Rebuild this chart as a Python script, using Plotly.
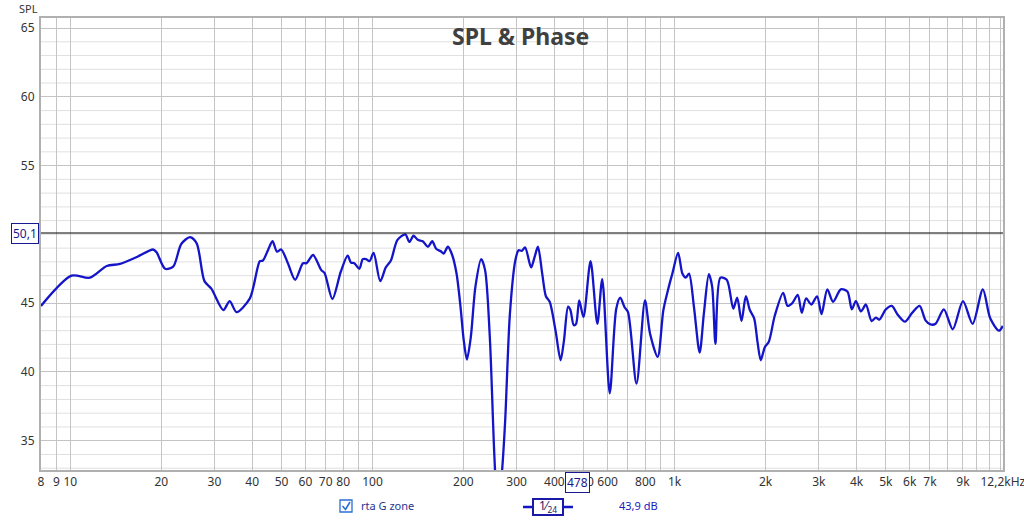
import math
import plotly.graph_objects as go

# ---- data ----
freq_hz = [8.0, 10.1, 11.6, 13.2, 14.6, 16.6, 18.8, 19.3, 20.6, 21.9, 23.3, 24.9, 26.2, 27.8, 29.3,
           32.1, 33.7, 35.5, 39.3, 42.4, 43.4, 45.1, 46.7, 48.3, 49.9, 52.5, 55.5, 58.9, 60.5, 63.6,
           67.7, 69.4, 73.7, 78.6, 82.8, 84.9, 87.1, 90.5, 92.9, 95.3, 97.8, 100.9, 106.1, 110.7,
           115.1, 121.0, 128.5, 132.5, 136.8, 141.3, 146.7, 152.6, 157.7, 162.5, 168.8, 172.0,
           177.7, 183.6, 189.8, 195.7, 200.5, 205.4, 211.5, 219.2, 229.0, 235.9, 244.6, 253.1,
           260.0, 268.5, 275.0, 285.0, 297.0, 304.5, 312.0, 320.0, 335.0, 344.0, 353.0, 364.6,
           375.0, 386.0, 403.6, 419.5, 430.4, 444.0, 452.0, 463.6, 472.0, 483.4, 499.3, 527.0,
           555.0, 576.0, 610.0, 641.0, 661.0, 683.0, 701.0, 748.0, 798.0, 829.0, 879.0, 918.0,
           957, 983, 1027, 1061, 1088, 1116, 1159, 1210, 1250, 1298, 1331, 1365, 1417, 1488,
           1564, 1611, 1665, 1721, 1774, 1833, 1880, 1928, 1988, 2050, 2146, 2287, 2364, 2452,
           2555, 2636, 2724, 2833, 2962, 3063, 3201, 3346, 3548, 3731, 3859, 3979, 4137, 4296,
           4486, 4637, 4756, 5001, 5234, 5458, 5786, 6113, 6467, 6766, 7030, 7305, 7779, 8325,
           9001, 9686, 10473, 11080, 11838, 12200]
spl_db = [44.8, 47.0, 46.85, 47.7, 47.85, 48.35, 48.9, 48.7, 47.5, 47.65, 49.3, 49.8, 49.35, 46.6, 46.05,
          44.5, 45.15, 44.35, 45.35, 48.05, 48.1, 48.85, 49.5, 48.75, 48.9, 47.9, 46.7, 47.9, 47.9, 48.5,
          47.4, 47.2, 45.3, 47.3, 48.45, 47.95, 47.9, 47.5, 48.2, 48.2, 48.05, 48.65, 46.6, 47.6,
          48.1, 49.6, 50.0, 49.45, 49.9, 49.6, 49.5, 49.1, 49.5, 48.95, 48.75, 48.6,
          49.1, 48.5, 47.15, 44.7, 42.3, 40.9, 42.5, 46.2, 48.2, 47.4, 42.5, 34.0,
          29.5, 32.8, 36.5, 44.2, 48.1, 48.85, 48.8, 49.05, 47.6, 48.35, 49.1, 47.15,
          45.5, 45.1, 43.0, 40.85, 42.3, 44.75, 44.5, 43.4, 43.5, 45.2, 44.0, 48.05,
          43.5, 46.75, 38.45, 44.6, 45.4, 44.7, 44.35, 39.15, 45.2, 42.8, 41.1, 44.5,
          46.2, 47.15, 48.65, 47.15, 46.85, 47.15, 44.7, 41.4, 44.25, 47.1, 46.2, 42.05, 46.85, 46.7,
          44.6, 45.4, 43.7, 45.5, 44.5, 43.9, 42.2, 40.85, 41.8, 42.2, 44.1, 45.75, 44.8, 45.0,
          45.6, 44.3, 45.35, 44.9, 45.5, 44.2, 46.0, 45.1, 46.0, 45.85, 44.55, 45.15, 44.4, 44.9,
          43.7, 43.95, 43.8, 44.55, 44.8, 44.2, 43.65, 44.3, 44.8, 43.75, 43.45, 43.5, 44.55, 43.1,
          45.15, 43.5, 46.0, 43.9, 43.0, 43.35]

grid_freqs = [8, 9, 10, 20, 30, 40, 50, 60, 70, 80, 90, 100, 200, 300, 400, 500, 600, 700, 800, 900,
              1000, 2000, 3000, 4000, 5000, 6000, 7000, 8000, 9000, 10000, 11000, 12000, 12200]
grid_labels = ["8", "9", "10", "20", "30", "40", "50", "60", "70", "80", "", "100", "200", "300", "400",
               "500", "600", "", "800", "", "1k", "2k", "3k", "4k", "5k", "6k", "7k", "", "9k", "", "", "",
               "12,2kHz"]
decades = [10, 100, 1000, 10000]
y_ticks = [35, 40, 45, 55, 60, 65]
y_minor = [33, 34, 36, 37, 38, 39, 41, 42, 43, 44, 46, 47, 48, 49, 50, 51, 52, 53, 54, 56, 57, 58, 59,
           61, 62, 63, 64]

cursor_freq = 478
cursor_spl = 50.1
cursor_value = "43,9 dB"
series_name = "rta G zone"

BLUE = "#1414c8"
FONT = "Noto Sans"

fig = go.Figure()
fig.add_trace(go.Scatter(x=freq_hz, y=spl_db, mode="lines",
                         line=dict(color=BLUE, width=2.3, shape="spline", smoothing=0.8),
                         hoverinfo="skip", showlegend=False))

L, R, T, B = 41, 21, 18, 52
W, H = 1024, 522
pw, ph = W - L - R, H - T - B


def px(x):
    return (x - L) / pw


def py(y):
    return (H - B - y) / ph


shapes = []
for v in y_minor:
    shapes.append(dict(type="line", xref="paper", yref="y", x0=0, x1=1, y0=v, y1=v,
                       line=dict(color="#e0e0e0", width=1), layer="below"))
for d in decades:
    shapes.append(dict(type="line", xref="x", yref="paper", x0=math.log10(d), x1=math.log10(d), y0=0, y1=1,
                       line=dict(color="#7a7a7a", width=1), layer="below"))
# cursors
shapes.append(dict(type="line", xref="x", yref="paper", x0=math.log10(cursor_freq), x1=math.log10(cursor_freq),
                   y0=0, y1=1, line=dict(color="black", width=1)))
shapes.append(dict(type="line", xref="paper", yref="y", x0=0, x1=1, y0=cursor_spl, y1=cursor_spl,
                   line=dict(color="black", width=1)))
# legend checkbox
shapes.append(dict(type="rect", xref="paper", yref="paper", x0=px(340), x1=px(352), y0=py(512), y1=py(500),
                   line=dict(color="#2a6fd6", width=1.3), fillcolor="white"))
shapes.append(dict(type="path", xref="paper", yref="paper",
                   path=f"M {px(342.5)} {py(506)} L {px(345.5)} {py(509.5)} L {px(350)} {py(502)}",
                   line=dict(color="#2a6fd6", width=1.6)))
# legend line sample
shapes.append(dict(type="line", xref="paper", yref="paper", x0=px(523), x1=px(573), y0=py(507), y1=py(507),
                   line=dict(color=BLUE, width=2.4)))
shapes.append(dict(type="rect", xref="paper", yref="paper", x0=px(533), x1=px(563), y0=py(515), y1=py(499),
                   line=dict(color="#1a1aa8", width=2), fillcolor="white"))

C = dict(xanchor="center", yanchor="middle", showarrow=False)
annotations = [
    dict(text="<b>SPL & Phase</b>", xref="paper", yref="paper", x=px(520), y=py(36),
         font=dict(family=FONT, size=23, color="#404040"), **C),
    dict(text="SPL", xref="paper", yref="paper", x=px(28), y=py(8),
         font=dict(family=FONT, size=11, color="#333333"), **C),
    dict(text="50,1", xref="paper", yref="y", x=px(25), y=cursor_spl,
         font=dict(family=FONT, size=12, color="#1a1a90"), bgcolor="white", bordercolor="#1a1a90",
         borderwidth=1, borderpad=1, **C),
    dict(text=str(cursor_freq), xref="x", yref="paper", x=math.log10(cursor_freq), y=py(482),
         font=dict(family=FONT, size=12, color="#1a1a90"), bgcolor="white", bordercolor="#1a1a90",
         borderwidth=1, borderpad=1, **C),
    dict(text=series_name, xref="paper", yref="paper", x=px(359), y=py(506), xanchor="left",
         yanchor="middle", showarrow=False,
         font=dict(family=FONT, size=11, color="#1f3590")),
    dict(text="1⁄<sub>24</sub>", xref="paper", yref="paper", x=px(548), y=py(506),
         font=dict(family=FONT, size=12, color="#222266"), **C),
    dict(text=cursor_value, xref="paper", yref="paper", x=px(638), y=py(506),
         font=dict(family=FONT, size=11, color="#2020c0"), **C),
]

fig.update_layout(
    width=W, height=H,
    margin=dict(l=L, r=R, t=T, b=B, autoexpand=False),
    paper_bgcolor="white", plot_bgcolor="white",
    shapes=shapes, annotations=annotations,
    xaxis=dict(type="log", range=[math.log10(8), math.log10(12200) + 0.0004], tickvals=grid_freqs,
               ticktext=grid_labels, ticklabeloverflow="allow", automargin=False,
               showgrid=True, gridcolor="#c4c4c4", gridwidth=1, zeroline=False, ticks="",
               showline=True, linecolor="#b0b0b0", linewidth=2, mirror=True,
               tickfont=dict(family=FONT, size=12, color="#333333"), tickangle=0),
    yaxis=dict(range=[32.87, 65.73], tickvals=y_ticks, showgrid=True, gridcolor="#c4c4c4", gridwidth=1,
               zeroline=False, ticks="", showline=True, linecolor="#b0b0b0", linewidth=2, mirror=True,
               automargin=False,
               tickfont=dict(family=FONT, size=12, color="#333333"), ticklabelstandoff=2),
)

fig.write_html("out.html", config={"displayModeBar": False},
               post_script="document.body.style.margin='0px';document.body.style.padding='0px';")
